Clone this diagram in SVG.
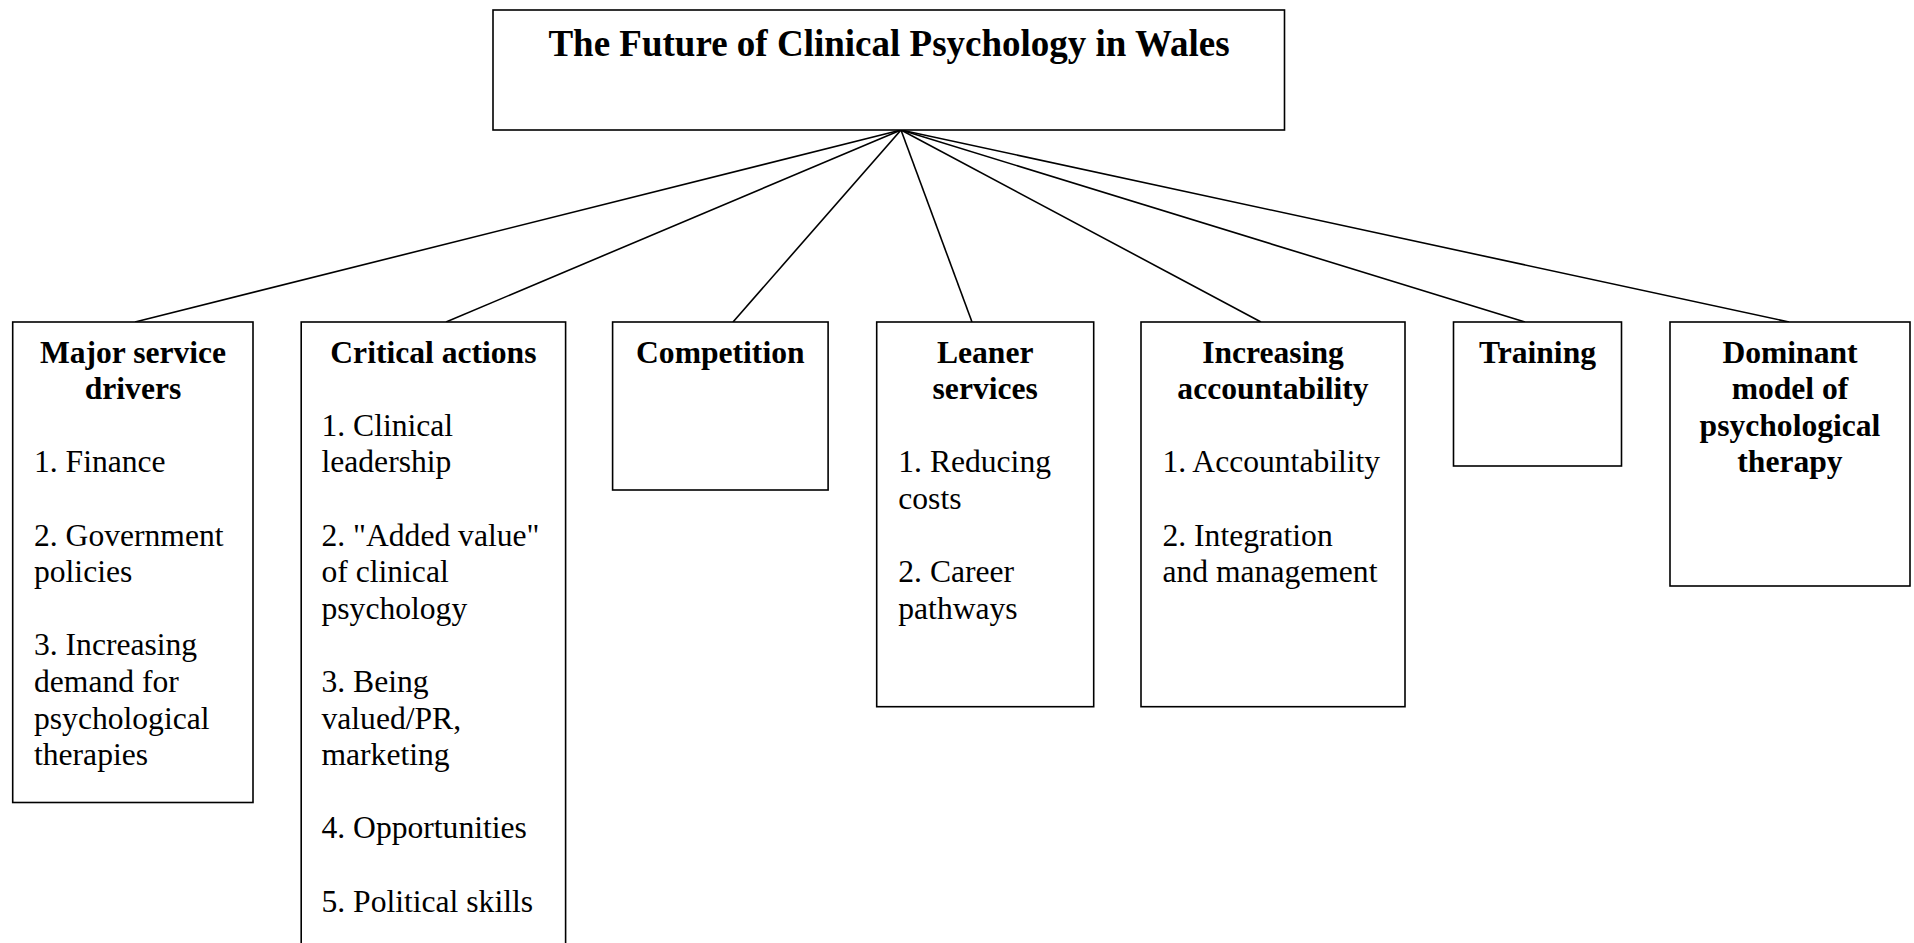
<svg xmlns="http://www.w3.org/2000/svg" width="1914" height="943" viewBox="0 0 1914 943">
<style>
rect.box{fill:#fff;stroke:#000;stroke-width:1.6}
.conn line{stroke:#000;stroke-width:1.6}
text{font-family:"Liberation Serif","Times New Roman",serif;font-size:31.6px;fill:#000}
.h{font-weight:bold;text-anchor:middle}
.main{font-weight:bold;font-size:37px;text-anchor:middle}
</style>
<rect width="1914" height="943" fill="#fff"/>
<g id="connectors" class="conn">
<line x1="901" y1="130" x2="135" y2="322"/>
<line x1="901" y1="130" x2="446" y2="322"/>
<line x1="901" y1="130" x2="733" y2="322"/>
<line x1="901" y1="130" x2="972" y2="322"/>
<line x1="901" y1="130" x2="1261" y2="322"/>
<line x1="901" y1="130" x2="1525" y2="322"/>
<line x1="901" y1="130" x2="1789" y2="322"/>
</g>
<g id="root">
<rect class="box" x="493" y="10" width="791.5" height="120"/>
<text class="main" x="889" y="56">The Future of Clinical Psychology in Wales</text>
</g>
<g id="drivers">
<rect class="box" x="12.7" y="322" width="240.3" height="480.5"/>
<text class="h" x="133" y="362.5">Major service</text>
<text class="h" x="133" y="399.1">drivers</text>
<text x="34" y="472.3">1. Finance</text>
<text x="34" y="545.5">2. Government</text>
<text x="34" y="582.1">policies</text>
<text x="34" y="655.3">3. Increasing</text>
<text x="34" y="691.9">demand for</text>
<text x="34" y="728.5">psychological</text>
<text x="34" y="765.1">therapies</text>
</g>
<g id="critical">
<rect class="box" x="301.2" y="322" width="264.4" height="640"/>
<text class="h" x="433.4" y="362.5">Critical actions</text>
<text x="321.5" y="435.7">1. Clinical</text>
<text x="321.5" y="472.3">leadership</text>
<text x="321.5" y="545.5">2. "Added value"</text>
<text x="321.5" y="582.1">of clinical</text>
<text x="321.5" y="618.7">psychology</text>
<text x="321.5" y="691.9">3. Being</text>
<text x="321.5" y="728.5">valued/PR,</text>
<text x="321.5" y="765.1">marketing</text>
<text x="321.5" y="838.3">4. Opportunities</text>
<text x="321.5" y="911.5">5. Political skills</text>
</g>
<g id="competition">
<rect class="box" x="612.6" y="322" width="215.5" height="168"/>
<text class="h" x="720.3" y="362.5">Competition</text>
</g>
<g id="leaner">
<rect class="box" x="876.7" y="322" width="217" height="384.7"/>
<text class="h" x="985.2" y="362.5">Leaner</text>
<text class="h" x="985.2" y="399.1">services</text>
<text x="898.3" y="472.3">1. Reducing</text>
<text x="898.3" y="508.9">costs</text>
<text x="898.3" y="582.1">2. Career</text>
<text x="898.3" y="618.7">pathways</text>
</g>
<g id="accountability">
<rect class="box" x="1141" y="322" width="264" height="384.7"/>
<text class="h" x="1273" y="362.5">Increasing</text>
<text class="h" x="1273" y="399.1">accountability</text>
<text x="1162.5" y="472.3">1. Accountability</text>
<text x="1162.5" y="545.5">2. Integration</text>
<text x="1162.5" y="582.1">and management</text>
</g>
<g id="training">
<rect class="box" x="1453.5" y="322" width="168" height="144"/>
<text class="h" x="1537.5" y="362.5">Training</text>
</g>
<g id="dominant">
<rect class="box" x="1670" y="322" width="240" height="264"/>
<text class="h" x="1790" y="362.5">Dominant</text>
<text class="h" x="1790" y="399.1">model of</text>
<text class="h" x="1790" y="435.7">psychological</text>
<text class="h" x="1790" y="472.3">therapy</text>
</g>
</svg>
